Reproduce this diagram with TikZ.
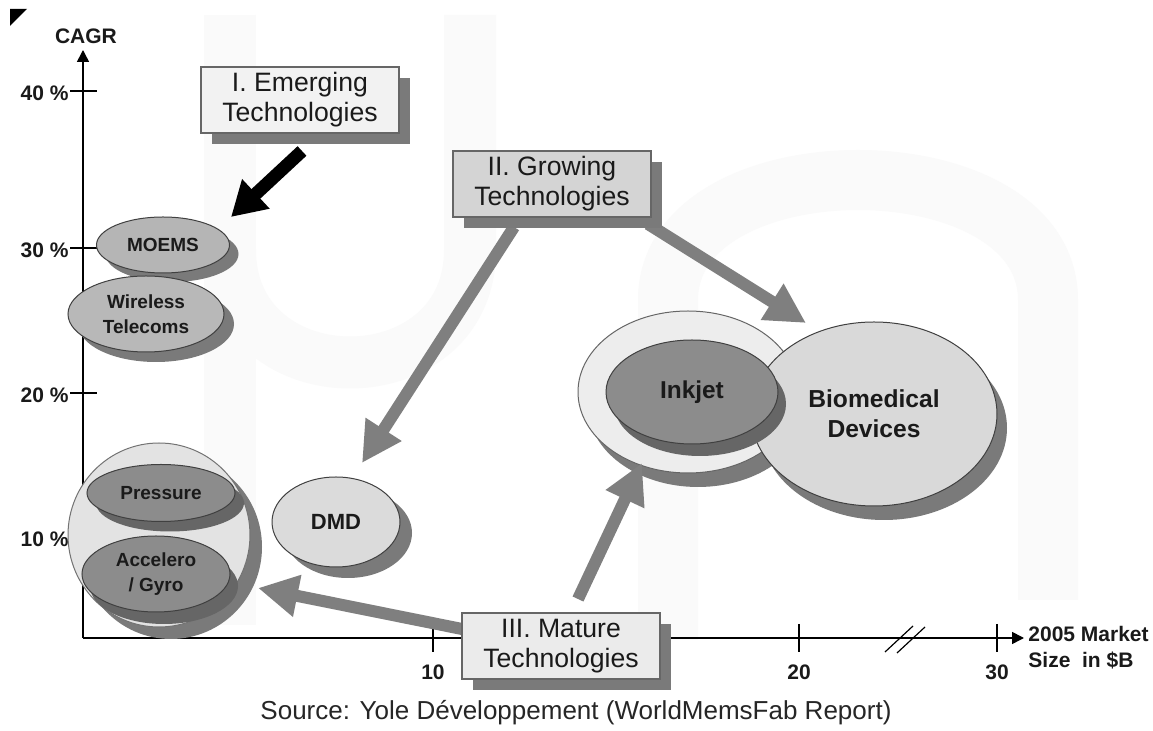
\documentclass[tikz,border=0pt]{standalone}
\usepackage{fontspec}
\setmainfont{Liberation Sans}
\usetikzlibrary{shapes.geometric,shadows,arrows.meta,calc}
\definecolor{shd}{HTML}{7A7A7A}
\definecolor{shdk}{HTML}{666666}
\definecolor{arrg}{HTML}{7F7F7F}
\definecolor{wmc}{HTML}{FAFAFA}
\definecolor{txt}{HTML}{1A1A1A}
\begin{document}
\begin{tikzpicture}[x=0.5pt,y=-0.5pt,
  ell/.style={ellipse, draw=black!75, line width=0.5pt, inner sep=0pt, text=txt,
    font=\fontsize{9.5}{12.5}\selectfont\bfseries, align=center},
  shad/.style 2 args={general shadow={fill=shd, draw=none, shadow xshift=#1, shadow yshift=-#2}},
  shaddk/.style 2 args={general shadow={fill=shdk, draw=none, shadow xshift=#1, shadow yshift=-#2}},
  tbox/.style={rectangle, draw=black!60, line width=0.6pt, inner sep=0pt, text=txt,
    font=\fontsize{13.3}{15}\selectfont, align=center,
    minimum width=99pt, minimum height=33pt,
    general shadow={fill=shd, draw=none, shadow xshift=5.5pt, shadow yshift=-5.5pt}},
  axlab/.style={font=\fontsize{10.5}{12.5}\selectfont\bfseries, text=txt, inner sep=0pt},
  garrow/.style={draw=arrg, line width=6pt, -{Triangle[length=20pt,width=20pt,fill=arrg]}},
  barrow/.style={draw=black, line width=6.5pt, -{Triangle[length=17pt,width=19pt,fill=black]}},
  axis/.style={draw=black, line width=0.8pt},
]
\useasboundingbox (0,0) rectangle (1153,731);
\fill[white] (0,0) rectangle (1153,731);

% faint watermark
\draw[wmc, line width=26pt] (230,15) -- (230,625);
\draw[wmc, line width=26pt] (230,250) .. controls (230,400) and (470,400) .. (470,250) -- (470,15);
\draw[wmc, line width=30pt] (668,640) -- (668,300) .. controls (668,140) and (1048,140) .. (1048,300) -- (1048,600);

% corner mark
\fill[black] (10,9) -- (27,9) -- (10,26) -- cycle;

% axes
\coordinate (origin) at (83,638);
\coordinate (ytop) at (83,50);
\coordinate (xend) at (1024,638);
\draw[axis, -{Triangle[length=6pt,width=6pt]}] (origin) -- (ytop);
\draw[axis, -{Triangle[length=6pt,width=6pt]}] (origin) -- (xend);
\node[axlab] (cagr) at (86,36) {CAGR};
\foreach \yy/\lab in {91/40,248/30,393/20,537/10}{
  \draw[axis, line width=0.6pt] (70,\yy) -- (97,\yy);
  \node[axlab, anchor=east] (t\lab) at (69,\yy+2) {\lab\ \%};
}
\foreach \xx/\lab in {433/10,799/20,997/30}{
  \draw[axis, line width=0.6pt] (\xx,624) -- (\xx,652);
  \node[axlab] (x\lab) at (\xx,672) {\lab};
}
\draw[axis, line width=0.6pt] (885,652) -- (913,626);
\draw[axis, line width=0.6pt] (897,653) -- (925,627);
\node[axlab, anchor=west, align=left, font=\fontsize{10.5}{13}\selectfont\bfseries] (xlab) at (1028,648) {2005 Market\\Size\ \ in \$B};

% ellipses
\node[ell, fill=black!29, minimum width=66.5pt, minimum height=28pt, shad={4.5pt}{4.5pt}] (moems) at (163,245) {MOEMS};
\node[ell, fill=black!28, minimum width=78pt, minimum height=38pt, shad={5pt}{5pt}] (wireless) at (146,314) {Wireless\\Telecoms};
\node[ell, draw=black!55, fill=black!11, minimum width=91pt, minimum height=92pt, shad={6pt}{6pt}] (bigc) at (159,535) {};
\node[ell, fill=black!45, minimum width=74pt, minimum height=28.5pt, shaddk={4.5pt}{5pt}] (pressure) at (161,493) {Pressure};
\node[ell, fill=black!45, minimum width=74pt, minimum height=38pt, shaddk={4pt}{6pt}] (accel) at (156,574) {Accelero\\/ Gyro};
\node[ell, fill=black!14, minimum width=64pt, minimum height=45pt, shad={6pt}{5.5pt}, font=\fontsize{11}{13}\selectfont\bfseries] (dmd) at (336,522) {DMD};
\node[ell, draw=black!60, fill=black!7, minimum width=110pt, minimum height=81pt, shad={5pt}{7pt}] (inkout) at (688,392) {};
\node[ell, fill=black!15, minimum width=123pt, minimum height=92pt, shad={5pt}{7pt}, font=\fontsize{12.3}{15}\selectfont\bfseries] (bio) at (874,414) {Biomedical\\Devices};
\node[ell, fill=black!45, minimum width=86pt, minimum height=52pt, shaddk={4pt}{6pt}, font=\fontsize{12.2}{15}\selectfont\bfseries] (inkjet) at (692,392) {Inkjet};

% arrow end points
\coordinate (a1s) at (302,151);
\coordinate (a1t) at (231,217);
\coordinate (a2s) at (514,227);
\coordinate (a2t) at (362,463);
\coordinate (a3s) at (648,224);
\coordinate (a3t) at (806,323);
\coordinate (a4s) at (462,629);
\coordinate (a4t) at (258,588);
\coordinate (a5s) at (578,599);
\coordinate (a5t) at (642,463);
\draw[barrow] (a1s) -- (a1t);
\draw[garrow] (a2s) -- (a2t);
\draw[garrow] (a3s) -- (a3t);
\draw[garrow] (a4s) -- (a4t);
\draw[garrow] (a5s) -- (a5t);

% boxes
\node[tbox, fill=black!5] (emerg) at (300,100) {I. Emerging\\Technologies};
\node[tbox, fill=black!17] (grow) at (552,184) {II. Growing\\Technologies};
\node[tbox, fill=black!8] (mature) at (561,646) {III. Mature\\Technologies};

% source
\node[font=\fontsize{13}{15}\selectfont, text=black!85] (src) at (576,713) {Source: Yole Développement (WorldMemsFab Report)};
\end{tikzpicture}
\end{document}
